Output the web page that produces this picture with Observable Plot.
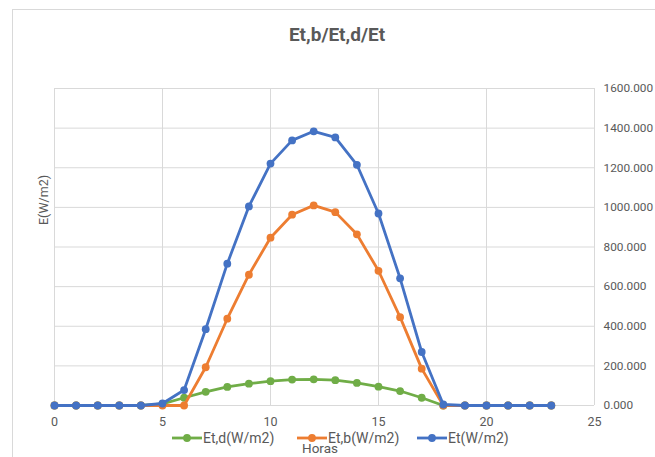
<!DOCTYPE html>
<html>
<head>
<meta charset="utf-8">
<script src="https://cdn.jsdelivr.net/npm/d3@7"></script>
<script src="https://cdn.jsdelivr.net/npm/@observablehq/plot@0.6"></script>
<style>
  html, body { margin: 0; padding: 0; background: #fff; }
  #wrap { position: relative; width: 655px; height: 457px; overflow: hidden; font-family: Roboto, "Open Sans", sans-serif; color: #595959; }
  #border { position: absolute; left: 12px; top: 9px; width: 700px; height: 500px; border: 1px solid #d9d9d9; box-sizing: border-box; }
  #chart { position: absolute; left: 0; top: 0; }
  #title { position: absolute; left: 0; width: 674px; top: 23px; text-align: center; font-size: 19px; font-weight: bold; color: #595959; }
  #ylabel { position: absolute; left: 43px; top: 200px; transform: translate(-50%, -50%) rotate(-90deg); font-size: 12.5px; white-space: nowrap; }
  #xlabel { position: absolute; left: 320px; top: 449px; transform: translate(-50%, -50%); font-size: 13.5px; line-height: 1; }
  .leg { position: absolute; top: 438px; transform: translateY(-50%); display: flex; align-items: center; font-size: 14px; line-height: 1; white-space: nowrap; }
</style>
</head>
<body>
<div id="wrap">
  <div id="border"></div>
  <div id="chart"></div>
  <div id="title">Et,b/Et,d/Et</div>
  <div id="ylabel">E(W/m2)</div>
  <div id="legend"></div>
  <div id="xlabel">Horas</div>
</div>
<script>
const hours = d3.range(0, 24);
const etd = [0,0,0,0,0,8,39,69,94,110,123,131,132,128,114,95,73,39,0,0,0,0,0,0];
const etb = [0,0,0,0,0,0,0,193,438,660,847,963,1010,976,864,680,446,186,0,0,0,0,0,0];
const et  = [0,0,0,0,0,10,78,385,716,1005,1221,1338,1384,1353,1215,969,642,270,5,0,0,0,0,0];
const seriesNames = ["Et,d(W/m2)", "Et,b(W/m2)", "Et(W/m2)"];
const seriesColors = ["#70AD47", "#ED7D31", "#4472C4"];
const seriesValues = [etd, etb, et];
const xTicks = [0, 5, 10, 15, 20, 25];
const yTicks = [0, 200, 400, 600, 800, 1000, 1200, 1400, 1600];

const rows = seriesNames.flatMap((name, i) =>
  hours.map((h, j) => ({series: name, hour: h, value: seriesValues[i][j]})));

const lineMarks = seriesNames.flatMap((name, i) => {
  const d = rows.filter(r => r.series === name);
  return [
    Plot.line(d, {x: "hour", y: "value", stroke: seriesColors[i], strokeWidth: 2.8}),
    Plot.dot(d, {x: "hour", y: "value", fill: seriesColors[i], r: 3.9, stroke: "none"})
  ];
});

const chart = Plot.plot({
  width: 655,
  height: 457,
  marginLeft: 54,
  marginRight: 61,
  marginTop: 88,
  marginBottom: 52,
  style: {background: "transparent", fontFamily: "Roboto, 'Open Sans', sans-serif", fontSize: "11px", color: "#595959"},
  x: {domain: [0, 25]},
  y: {domain: [0, 1600]},
  marks: [
    Plot.gridX(xTicks, {stroke: "#d9d9d9", strokeOpacity: 1, strokeWidth: 1}),
    Plot.gridY(yTicks, {stroke: "#d9d9d9", strokeOpacity: 1, strokeWidth: 1}),
    Plot.axisX(xTicks, {tickSize: 0, tickPadding: 12, label: null, fill: "#595959", fontSize: 12.5}),
    Plot.axisY(yTicks, {anchor: "right", tickSize: 0, tickPadding: 9, label: null, tickFormat: d3.format(".3f"), fill: "#595959", fontSize: 11.8}),
    ...lineMarks
  ]
});
document.getElementById("chart").appendChild(chart);

// legend
const legendPos = [172, 297, 417];
const legend = document.getElementById("legend");
seriesNames.forEach((name, i) => {
  const item = document.createElement("div");
  item.className = "leg";
  item.style.left = legendPos[i] + "px";
  item.innerHTML = `<svg width="30" height="10" style="margin-right:1px"><line x1="0" x2="30" y1="5" y2="5" stroke="${seriesColors[i]}" stroke-width="2.8"/><circle cx="15" cy="5" r="3.9" fill="${seriesColors[i]}"/></svg><span>${name}</span>`;
  legend.appendChild(item);
});
</script>
</body>
</html>
